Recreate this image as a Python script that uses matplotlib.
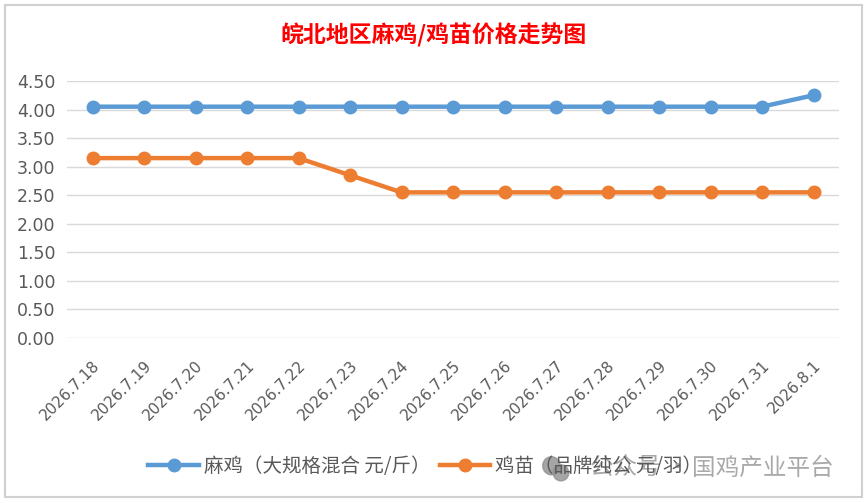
import matplotlib.pyplot as plt
from matplotlib.patches import Rectangle, Ellipse

plt.rcParams['font.family'] = ['Noto Sans CJK SC', 'DejaVu Sans']

dates = ["2026.7.18", "2026.7.19", "2026.7.20", "2026.7.21", "2026.7.22",
         "2026.7.23", "2026.7.24", "2026.7.25", "2026.7.26", "2026.7.27",
         "2026.7.28", "2026.7.29", "2026.7.30", "2026.7.31", "2026.8.1"]
maji = [4.05, 4.05, 4.05, 4.05, 4.05, 4.05, 4.05, 4.05, 4.05, 4.05,
        4.05, 4.05, 4.05, 4.05, 4.25]
jimiao = [3.15, 3.15, 3.15, 3.15, 3.15, 2.85, 2.55, 2.55, 2.55, 2.55,
          2.55, 2.55, 2.55, 2.55, 2.55]
yticks = [0.0, 0.5, 1.0, 1.5, 2.0, 2.5, 3.0, 3.5, 4.0, 4.5]

fig = plt.figure(figsize=(8.67, 5.03), dpi=100)
ax = fig.add_axes([0.077, 0.328, 0.891, 0.511])

x = range(len(dates))
ax.plot(x, maji, color='#5B9BD5', lw=3.2, marker='o', ms=9,
        label='麻鸡（大规格混合 元/斤）')
ax.plot(x, jimiao, color='#ED7D31', lw=3.2, marker='o', ms=9,
        label='鸡苗（品牌纯公 元/羽）')

ax.set_xlim(-0.5, len(dates) - 0.5)
ax.set_ylim(0, 4.5)
ax.set_yticks(yticks)
ax.set_yticklabels(['%.2f' % v for v in yticks], fontsize=12.5, color='#595959',
                   family=['DejaVu Sans'])
ax.set_xticks(list(x))
ax.set_xticklabels(dates, rotation=45, ha='right', rotation_mode='anchor',
                   fontsize=11, color='#595959', family=['DejaVu Sans'])
ax.tick_params(axis='y', length=0, pad=8)
ax.tick_params(axis='x', length=0, pad=14)
ax.grid(axis='y', color='#D9D9D9', lw=1)
ax.set_axisbelow(True)
for s in ax.spines.values():
    s.set_visible(False)

fig.text(0.5, 0.930, '皖北地区麻鸡/鸡苗价格走势图', color='#FF0000',
         fontsize=16.5, fontweight='bold', ha='center', va='center')

fig.legend(loc='center left', bbox_to_anchor=(0.171, 0.072), ncol=2, frameon=False,
           labelcolor='#595959', handlelength=2.6, columnspacing=0.5,
           handletextpad=0.25, borderpad=0, borderaxespad=0,
           prop={'weight': 'light', 'size': 14})

# watermark
fig.patches.append(Ellipse((0.636, 0.074), 0.020, 0.036, transform=fig.transFigure,
                           color='#8f8f8f', alpha=0.8))
fig.patches.append(Ellipse((0.647, 0.060), 0.018, 0.032, transform=fig.transFigure,
                           color='#8f8f8f', alpha=0.8))
fig.text(0.680, 0.068, '公众号 ·', color='#9a9a9a', alpha=0.85,
         fontsize=17, ha='left', va='center')
fig.text(0.798, 0.068, '国鸡产业平台', color='#9a9a9a', alpha=0.85,
         fontsize=17, ha='left', va='center')

fig.patches.append(Rectangle((0.006, 0.012), 0.988, 0.978, transform=fig.transFigure,
                             fill=False, edgecolor='#D0D0D0', lw=1.5))

fig.savefig('out.png', dpi=100)
